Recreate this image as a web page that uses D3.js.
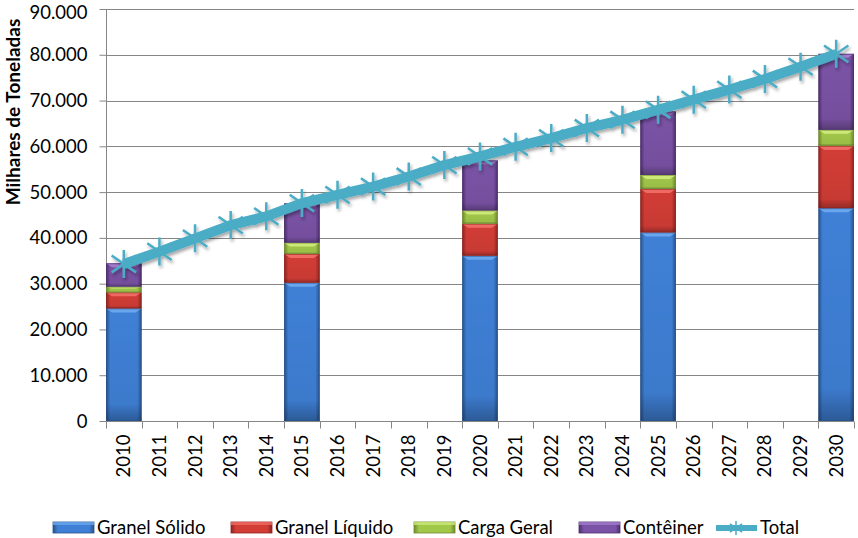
<!DOCTYPE html>
<html><head><meta charset="utf-8">
<script src="https://cdn.jsdelivr.net/npm/d3@7"></script>
<style>
body{margin:0;background:#fff;}
svg{display:block;font-family:Lato,"Open Sans",sans-serif;}
</style></head>
<body><svg id="c" width="858" height="538"></svg>
<script>
const years = ["2010","2011","2012","2013","2014","2015","2016","2017","2018","2019","2020","2021","2022","2023","2024","2025","2026","2027","2028","2029","2030"];
const barYears = ["2010","2015","2020","2025","2030"];
const granelSolido = [24600, 30200, 36100, 41200, 46500];
const granelLiquido = [3500, 6300, 7000, 9500, 13600];
const cargaGeral = [1250, 2450, 2900, 3050, 3500];
const conteiner = [5100, 8600, 10900, 13850, 16600];
const total = [34300, 37000, 39900, 42800, 44700, 47600, 49400, 51200, 53400, 55900, 57800, 59900, 61800, 64000, 65800, 68000, 70200, 72400, 74700, 77400, 80200];
const yTicks = [0,10000,20000,30000,40000,50000,60000,70000,80000,90000];
const seriesNames = ["Granel Sólido","Granel Líquido","Carga Geral","Contêiner"];
const seriesColors = [
  {edge:"#28528a", mid:"#3f80d6", top:"#6aa6ee"},
  {edge:"#8e2521", mid:"#d23d36", top:"#f06a64"},
  {edge:"#6e8a2e", mid:"#a2c84a", top:"#cce878"},
  {edge:"#4d2f6e", mid:"#7b53a6", top:"#a07ccc"}
];
const lineColor = "#4bacc6";

const svg = d3.select("#c");
const m = {l:106, r:4, t:9, b:117};
const W = 858, H = 538;
const x = d3.scaleBand().domain(years).range([m.l, W-m.r]).padding(0);
const y = d3.scaleLinear().domain([0,90000]).range([H-m.b, m.t]);
const loc = d3.formatLocale({decimal:",", thousands:".", grouping:[3], currency:["",""]});
const fmt = loc.format(",.0f");

const defs = svg.append("defs");
seriesColors.forEach((c,i)=>{
  const g = defs.append("linearGradient").attr("id","g"+i).attr("x1","0").attr("x2","1").attr("y1","0").attr("y2","0");
  g.append("stop").attr("offset","0").attr("stop-color",c.edge);
  g.append("stop").attr("offset","0.12").attr("stop-color",c.mid);
  g.append("stop").attr("offset","0.88").attr("stop-color",c.mid);
  g.append("stop").attr("offset","1").attr("stop-color",c.edge);
  const gv = defs.append("linearGradient").attr("id","v"+i).attr("x1","0").attr("x2","0").attr("y1","0").attr("y2","1");
  gv.append("stop").attr("offset","0").attr("stop-color","#000").attr("stop-opacity",0);
  gv.append("stop").attr("offset","0.85").attr("stop-color","#000").attr("stop-opacity",0.05);
  gv.append("stop").attr("offset","1").attr("stop-color","#000").attr("stop-opacity",0.3);
});
const f = defs.append("filter").attr("id","sh").attr("x","-10%").attr("y","-20%").attr("width","120%").attr("height","160%");
f.append("feDropShadow").attr("dx",1.5).attr("dy",2.5).attr("stdDeviation",1.8).attr("flood-color","#000").attr("flood-opacity",0.35);

// grid
svg.append("g").selectAll("line").data(yTicks.slice(1)).join("line")
  .attr("x1",m.l).attr("x2",W-m.r).attr("y1",d=>Math.round(y(d))+0.5).attr("y2",d=>Math.round(y(d))+0.5)
  .attr("stroke","#868686").attr("stroke-width",1);

// y axis
const ya = svg.append("g").attr("transform",`translate(${m.l+0.5},0)`)
  .call(d3.axisLeft(y).tickValues(yTicks).tickFormat(fmt).tickSize(7).tickPadding(12));
ya.select(".domain").attr("stroke","#868686").attr("d",`M0,${m.t}V${H-m.b}`);
ya.selectAll(".tick line").attr("stroke","#868686");
ya.selectAll(".tick text").attr("font-size",18.5).attr("fill","#000").attr("font-family","Lato")
  .attr("dy",d=>d===90000?"0.5em":"0.33em");

// x axis
const xa = svg.append("g").attr("transform",`translate(0,${Math.round(y(0))+0.5})`);
xa.append("line").attr("x1",m.l).attr("x2",W-m.r).attr("stroke","#868686");
xa.selectAll("line.tk").data(years.concat(["end"])).join("line").attr("class","tk")
  .attr("x1",(d,i)=>Math.round(i<years.length?x(d):x(years[years.length-1])+x.bandwidth())+0.5)
  .attr("x2",(d,i)=>Math.round(i<years.length?x(d):x(years[years.length-1])+x.bandwidth())+0.5)
  .attr("y1",0).attr("y2",7).attr("stroke","#868686");
xa.selectAll("text").data(years).join("text")
  .attr("transform",d=>`translate(${x(d)+x.bandwidth()/2+6.5},13) rotate(-90)`)
  .attr("text-anchor","end").attr("font-size",18.5).attr("fill","#000").text(d=>d);

// stacked bars
const stackData = barYears.map((yr,i)=>({year:yr, v:[granelSolido[i],granelLiquido[i],cargaGeral[i],conteiner[i]]}));
const bars = svg.append("g");
stackData.forEach(d=>{
  let base = 0;
  const bx = x(d.year), bw = x.bandwidth();
  d.v.forEach((val,i)=>{
    const y0 = y(base), y1 = y(base+val);
    const g = bars.append("g");
    g.append("rect").attr("x",bx).attr("y",y1).attr("width",bw).attr("height",y0-y1).attr("fill",`url(#g${i})`);
    g.append("rect").attr("x",bx).attr("y",y1).attr("width",bw).attr("height",y0-y1).attr("fill",`url(#v${i})`);
    const bev = Math.min(4,(y0-y1)/3);
    g.append("path").attr("d",`M${bx},${y1}H${bx+bw}L${bx+bw-6},${y1+bev}H${bx+6}Z`).attr("fill",seriesColors[i].top);
    g.append("rect").attr("x",bx+0.5).attr("y",y1+0.5).attr("width",bw-1).attr("height",Math.max(0,y0-y1-1)).attr("fill","none").attr("stroke",seriesColors[i].edge).attr("stroke-opacity",0.6);
    base += val;
  });
});

// total line
const lg = svg.append("g").attr("filter","url(#sh)");
const line = d3.line().x((d,i)=>x(years[i])+x.bandwidth()/2).y(d=>y(d));
lg.append("path").datum(total).attr("d",line).attr("fill","none").attr("stroke",lineColor).attr("stroke-width",10).attr("stroke-linejoin","round");
const star = r => `M0,${-r}V${r}M${-r*0.87},${-r*0.6}L${r*0.87},${r*0.6}M${-r*0.87},${r*0.6}L${r*0.87},${-r*0.6}`;
lg.selectAll("path.mk").data(total).join("path").attr("class","mk")
  .attr("transform",(d,i)=>`translate(${x(years[i])+x.bandwidth()/2},${y(d)})`)
  .attr("d",star(14)).attr("stroke",lineColor).attr("stroke-width",2.5).attr("fill","none");

// y axis title
svg.append("text").attr("transform","translate(20,112) rotate(-90)").attr("text-anchor","middle")
  .attr("font-size",19).attr("font-weight","bold").attr("fill","#000").text("Milhares de Toneladas");

// legend
const legX = [97, 275, 458, 623];
const lgd = svg.append("g");
seriesNames.forEach((n,i)=>{
  const g = lgd.append("g");
  g.append("rect").attr("x",legX[i]-44).attr("y",522).attr("width",41).attr("height",11).attr("fill",`url(#g${i})`).attr("stroke",seriesColors[i].edge).attr("stroke-width",0.8);
  g.append("rect").attr("x",legX[i]-44).attr("y",522).attr("width",41).attr("height",3).attr("fill",seriesColors[i].top).attr("opacity",0.8);
  g.append("text").attr("x",legX[i]).attr("y",534).attr("font-size",18.5).attr("fill","#000").text(n);
});
const tg = lgd.append("g");
tg.append("line").attr("x1",716).attr("x2",757).attr("y1",528).attr("y2",528).attr("stroke",lineColor).attr("stroke-width",6);
tg.append("path").attr("transform","translate(736,528)").attr("d",star(7)).attr("stroke",lineColor).attr("stroke-width",1.5);
tg.append("text").attr("x",760).attr("y",534).attr("font-size",18.5).attr("fill","#000").text("Total");
</script></body></html>
